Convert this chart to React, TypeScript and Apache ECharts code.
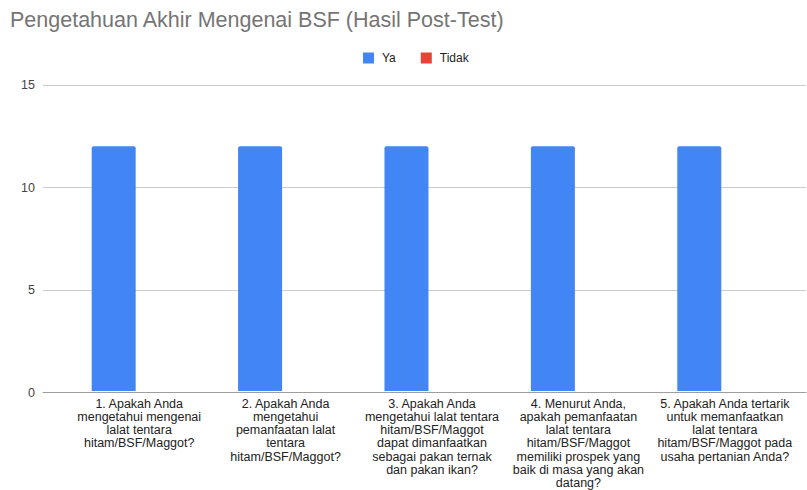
import React, { useEffect, useRef } from "react";
import * as echarts from "echarts";

const TITLE = "Pengetahuan Akhir Mengenai BSF (Hasil Post-Test)";
const categories = [
  "1. Apakah Anda\nmengetahui mengenai\nlalat tentara\nhitam/BSF/Maggot?",
  "2. Apakah Anda\nmengetahui\npemanfaatan lalat\ntentara\nhitam/BSF/Maggot?",
  "3. Apakah Anda\nmengetahui lalat tentara\nhitam/BSF/Maggot\ndapat dimanfaatkan\nsebagai pakan ternak\ndan pakan ikan?",
  "4. Menurut Anda,\napakah pemanfaatan\nlalat tentara\nhitam/BSF/Maggot\nmemiliki prospek yang\nbaik di masa yang akan\ndatang?",
  "5. Apakah Anda tertarik\nuntuk memanfaatkan\nlalat tentara\nhitam/BSF/Maggot pada\nusaha pertanian Anda?",
];
const seriesNames = ["Ya", "Tidak"];
const yaValues = [12, 12, 12, 12, 12];
const tidakValues = [0, 0, 0, 0, 0];
const yMin = 0;
const yMax = 15;
const yInterval = 5;

const FONT = "Arial, 'Liberation Sans', sans-serif";

export default function App() {
  const ref = useRef<HTMLDivElement>(null);
  useEffect(() => {
    if (!ref.current) return;
    const chart = echarts.init(ref.current, null, { renderer: "svg" });
    chart.setOption({
      animation: false,
      backgroundColor: "#ffffff",
      title: {
        text: TITLE,
        left: 5,
        top: 4,
        textStyle: { fontFamily: FONT, fontSize: 21.5, fontWeight: "normal", color: "#757575" },
      },
      legend: {
        data: seriesNames,
        left: 358,
        top: 47,
        icon: "rect",
        itemWidth: 11,
        itemHeight: 11,
        itemGap: 25,
        textStyle: { fontFamily: FONT, fontSize: 12, color: "#222222", padding: [0, 0, 0, 3] },
      },
      grid: [
        { left: 43, right: 1, top: 85, bottom: 97.5, containLabel: false },
        { left: 66, right: 9, top: 85, bottom: 97.5, containLabel: false },
      ],
      xAxis: [
        {
          gridIndex: 0,
          type: "category",
          data: categories,
          axisLine: { show: true, lineStyle: { color: "#9e9e9e", width: 1 } },
          axisTick: { show: false },
          axisLabel: { show: false },
          splitLine: { show: false },
        },
        {
          gridIndex: 1,
          type: "category",
          data: categories,
          axisLine: { show: false },
          axisTick: { show: false },
          axisLabel: {
            interval: 0,
            margin: 6,
            fontFamily: FONT,
            fontSize: 12.5,
            lineHeight: 13.3,
            color: "#222222",
            align: "center",
          },
        },
      ],
      yAxis: [
        {
          gridIndex: 0,
          type: "value",
          min: yMin,
          max: yMax,
          interval: yInterval,
          axisLine: { show: false },
          axisTick: { show: false },
          axisLabel: { margin: 8, fontFamily: FONT, fontSize: 12.5, color: "#444444" },
          splitLine: { show: true, lineStyle: { color: "#cccccc", width: 1 } },
        },
        {
          gridIndex: 1,
          type: "value",
          min: yMin,
          max: yMax,
          interval: yInterval,
          show: false,
          splitLine: { show: false },
        },
      ],
      series: [
        {
          name: seriesNames[0],
          type: "bar",
          xAxisIndex: 1,
          yAxisIndex: 1,
          data: yaValues,
          barWidth: 44,
          barGap: "16%",
          itemStyle: { color: "#4285F4", borderRadius: [2, 2, 0, 0] },
        },
        {
          name: seriesNames[1],
          type: "bar",
          xAxisIndex: 1,
          yAxisIndex: 1,
          data: tidakValues,
          barWidth: 44,
          barGap: "16%",
          itemStyle: { color: "#EA4335", borderRadius: [2, 2, 0, 0] },
        },
      ],
    });
    return () => chart.dispose();
  }, []);
  return <div ref={ref} style={{ width: 807, height: 490, position: "absolute", left: 0, top: 0 }} />;
}
